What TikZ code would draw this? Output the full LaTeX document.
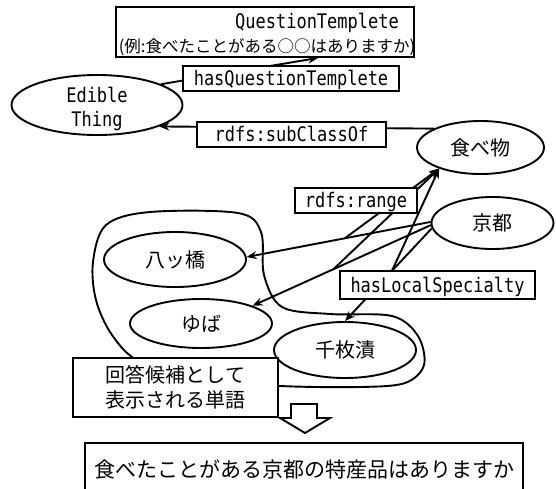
\documentclass[tikz,border=0pt]{standalone}
\usepackage{fontspec}
\usepackage{graphicx}
\newfontfamily\jp{Noto Sans CJK JP}
\newfontfamily\mn{DejaVu Sans Mono}
\usetikzlibrary{arrows.meta,shapes.geometric,calc}
\newcommand\mtx[1]{\scalebox{1}[1.18]{\fontsize{17}{20}\selectfont\mn #1}}
\begin{document}
\begin{tikzpicture}[x=1pt,y=-1pt,line width=1.9pt,
  ov/.style={ellipse,draw,inner sep=0pt,font=\jp\fontsize{20}{24}\selectfont},
  lbl/.style={rectangle,draw,fill=white,inner sep=0pt,text height=17pt,text depth=3pt},
  arr/.style={-{Stealth[length=10pt,width=8pt]}},
  jtext/.style={font=\jp\fontsize{20}{25}\selectfont},
  mtext/.style={inner sep=0pt,anchor=base}]
\useasboundingbox (0,0) rectangle (556,488);

% enclosing blob of answer candidates
\draw plot[smooth cycle, tension=0.55] coordinates {(93,262) (106,225) (150,212) (238,213) (261,232) (264,275) (282,307) (330,314) (392,316) (418,336) (424,365) (405,383) (360,387) (280,386) (200,380) (140,362) (112,335) (96,300)};

% class / instance ellipses
\node[ov,minimum width=171pt,minimum height=60pt] (edible) at (97,105) {};
\node[mtext] (edl1) at (97,102) {\mtx{Edible}};
\node[mtext] (edl2) at (97,126) {\mtx{Thing}};
\node[ov,minimum width=127pt,minimum height=53pt] (food) at (480.5,147.5) {食べ物};
\node[ov,minimum width=122pt,minimum height=52pt] (kyoto) at (492.5,223) {京都};
\node[ov,minimum width=142pt,minimum height=55pt] (yatsu) at (175,259.5) {八ッ橋};
\node[ov,minimum width=142pt,minimum height=49pt] (yuba) at (201,323.5) {ゆば};
\node[ov,minimum width=142pt,minimum height=56pt] (senmai) at (345,350) {千枚漬};

% question template box
\node[draw,minimum width=298pt,minimum height=50pt,inner sep=0pt] (qt) at (265,32) {};
\node[mtext] (qt1) at (317,28) {\mtx{QuestionTemplete}};
\node[inner sep=0pt,font=\jp\fontsize{16.5}{18}\selectfont] (qt2) at (267,47.5) {(例:食べたことがある○○はありますか)};

% connectors
\draw[arr] (edible.18) -- ($(qt.south)+(53,0)$);
\draw[arr] (food.158) -- (edible.-19);
\draw[arr] (kyoto.179) -- coordinate[pos=0.466] (r1) (yatsu.2);
\draw[arr] (kyoto.182) -- coordinate[pos=0.546] (r2) (yuba.19);
\draw[arr] (kyoto.185) -- coordinate[pos=0.46] (r3) (senmai.north);
\draw[arr] (r1) -- (food.207);
\draw[arr] (r2) -- (food.207);
\draw[arr] (r3) -- (food.207);

% edge labels
\node[lbl,minimum width=216pt,minimum height=25pt] (hqt) at (291,78.5) {\mtx{hasQuestionTemplete}};
\node[lbl,minimum width=189pt,minimum height=25pt] (subc) at (291.5,134.5) {\mtx{rdfs:subClassOf}};
\node[lbl,minimum width=122pt,minimum height=25pt] (range) at (356,200.5) {\mtx{rdfs:range}};
\node[lbl,minimum width=195pt,minimum height=28pt] (hls) at (437.5,285) {\mtx{hasLocalSpecialty}};

% candidate note
\node[draw,fill=white,jtext,align=center,minimum width=205pt,minimum height=59pt,inner sep=0pt] (cand) at (175.5,387.5) {回答候補として\\表示される単語};

% hollow down arrow
\draw[fill=white] (291,404) -- (317,404) -- (317,418) -- (330,418) -- (305,433) -- (280,418) -- (291,418) -- cycle;

% resulting question
\node[draw,minimum width=438pt,minimum height=52pt,inner sep=0pt,font=\jp\fontsize{21}{26}\selectfont] (final) at (304,469) {食べたことがある京都の特産品はありますか};
\end{tikzpicture}
\end{document}
